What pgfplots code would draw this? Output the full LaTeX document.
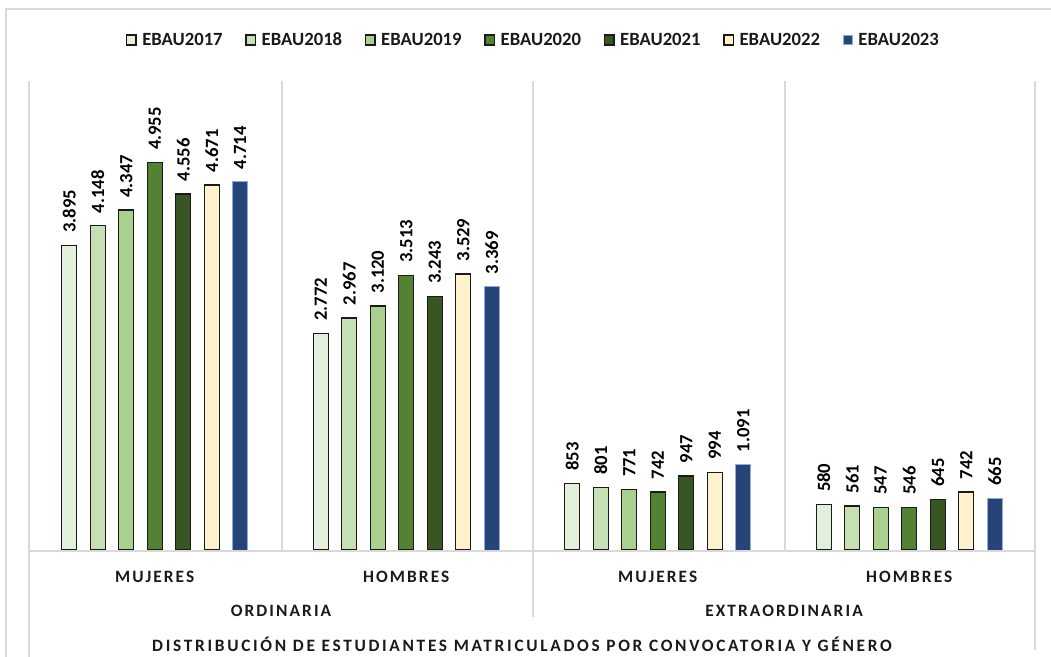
\documentclass[border=0pt]{standalone}
\usepackage{pgfplots}
\pgfplotsset{compat=1.18}
\usepackage{fontspec}
\setmainfont{Carlito}
\newfontfamily\spacedfont[LetterSpace=12]{Carlito}
\newfontfamily\titlefont[LetterSpace=15.5]{Carlito}
\definecolor{c17}{HTML}{E2EFDA}
\definecolor{c18}{HTML}{C6E0B4}
\definecolor{c19}{HTML}{A9D08E}
\definecolor{c20}{HTML}{548235}
\definecolor{c21}{HTML}{375623}
\definecolor{c22}{HTML}{FFF2CC}
\definecolor{c23}{HTML}{264478}
\definecolor{c23e}{HTML}{8FAADC}
\definecolor{gridc}{HTML}{D9D9D9}
\definecolor{edge}{HTML}{1A1A1A}
\definecolor{txt}{HTML}{1A1A1A}
\begin{document}
\begin{tikzpicture}
\useasboundingbox (0,0) rectangle (788.25pt,492.75pt);
\begin{scope}[x=0.75pt,y=-0.75pt,yshift=492.75pt]
  \draw[gridc, line width=1.1pt] (6,657) -- (6,9) -- (1051,9);
  \draw[gridc, line width=1.1pt] (29,81) -- (29,657);
  \draw[gridc, line width=1.1pt] (282,81) -- (282,550);
  \draw[gridc, line width=1.1pt] (533,81) -- (533,617);
  \draw[gridc, line width=1.1pt] (785,81) -- (785,550);
  \draw[gridc, line width=1.1pt] (1035,81) -- (1035,650);
  \tikzset{cat/.style={font=\spacedfont\bfseries\fontsize{13}{15}\selectfont, text=txt, inner sep=0pt}}
  \node[cat] at (154.75,577) {MUJERES};
  \node[cat] at (406.25,577) {HOMBRES};
  \node[cat] at (657.75,577) {MUJERES};
  \node[cat] at (909.25,577) {HOMBRES};
  \node[cat] at (281,610.5) {ORDINARIA};
  \node[cat] at (784,610.5) {EXTRAORDINARIA};
  \node[font=\titlefont\bfseries\fontsize{13}{15}\selectfont, text=txt, inner sep=0pt] at (522,644) {DISTRIBUCIÓN DE ESTUDIANTES MATRICULADOS POR CONVOCATORIA Y GÉNERO};
\end{scope}
\begin{axis}[
  at={(21.75pt,80.25pt)}, anchor=south west,
  scale only axis, width=754.5pt, height=351.75pt,
  xmin=0, xmax=4, ymin=0, ymax=6000,
  axis lines=none,
  ybar, bar width=11.25pt,
  clip=false,
  nodes near coords,
  /pgf/number format/fixed,
  /pgf/number format/precision=0,
  /pgf/number format/1000 sep={.},
  /pgf/number format/assume math mode=true,
  every node near coord/.append style={rotate=90, anchor=west, font=\fontsize{14}{16}\selectfont\bfseries, text=black, inner xsep=9pt, inner ysep=0pt},
  legend columns=7,
  legend style={at={(0.503,1.0874)}, anchor=center, draw=none, fill=none,
    font=\fontsize{14}{16}\selectfont\bfseries, text=txt,
    nodes={inner xsep=4pt},
    /tikz/every even column/.append style={column sep=13pt}},
]
\addplot[forget plot, fill=c17, draw=edge, line width=1.1pt, bar shift=-64.125pt] coordinates {(0.5,3895) (1.5,2772) (2.5,853) (3.5,580)};
\addplot[forget plot, fill=c18, draw=edge, line width=1.1pt, bar shift=-42.75pt] coordinates {(0.5,4148) (1.5,2967) (2.5,801) (3.5,561)};
\addplot[forget plot, fill=c19, draw=edge, line width=1.1pt, bar shift=-21.375pt] coordinates {(0.5,4347) (1.5,3120) (2.5,771) (3.5,547)};
\addplot[forget plot, fill=c20, draw=edge, line width=1.1pt, bar shift=0pt] coordinates {(0.5,4955) (1.5,3513) (2.5,742) (3.5,546)};
\addplot[forget plot, fill=c21, draw=edge, line width=1.1pt, bar shift=21.375pt] coordinates {(0.5,4556) (1.5,3243) (2.5,947) (3.5,645)};
\addplot[forget plot, fill=c22, draw=edge, line width=1.1pt, bar shift=42.75pt] coordinates {(0.5,4671) (1.5,3529) (2.5,994) (3.5,742)};
\addplot[forget plot, fill=c23, draw=c23e, line width=0.6pt, bar shift=64.125pt] coordinates {(0.5,4714) (1.5,3369) (2.5,1091) (3.5,665)};
\addlegendimage{legend image code/.code={\draw[fill=c17, draw=edge, line width=1.1pt] (0pt,-3.6pt) rectangle (7.2pt,3.6pt);}}
\addlegendimage{legend image code/.code={\draw[fill=c18, draw=edge, line width=1.1pt] (0pt,-3.6pt) rectangle (7.2pt,3.6pt);}}
\addlegendimage{legend image code/.code={\draw[fill=c19, draw=edge, line width=1.1pt] (0pt,-3.6pt) rectangle (7.2pt,3.6pt);}}
\addlegendimage{legend image code/.code={\draw[fill=c20, draw=edge, line width=1.1pt] (0pt,-3.6pt) rectangle (7.2pt,3.6pt);}}
\addlegendimage{legend image code/.code={\draw[fill=c21, draw=edge, line width=1.1pt] (0pt,-3.6pt) rectangle (7.2pt,3.6pt);}}
\addlegendimage{legend image code/.code={\draw[fill=c22, draw=edge, line width=1.1pt] (0pt,-3.6pt) rectangle (7.2pt,3.6pt);}}
\addlegendimage{legend image code/.code={\draw[fill=c23, draw=c23e, line width=0.6pt] (0pt,-3.6pt) rectangle (7.2pt,3.6pt);}}
\legend{EBAU2017,EBAU2018,EBAU2019,EBAU2020,EBAU2021,EBAU2022,EBAU2023}
\end{axis}
\begin{scope}[x=0.75pt,y=-0.75pt,yshift=492.75pt]
  \draw[gridc, line width=1.5pt] (29,550.8) -- (1035,550.8);
\end{scope}
\end{tikzpicture}
\end{document}
